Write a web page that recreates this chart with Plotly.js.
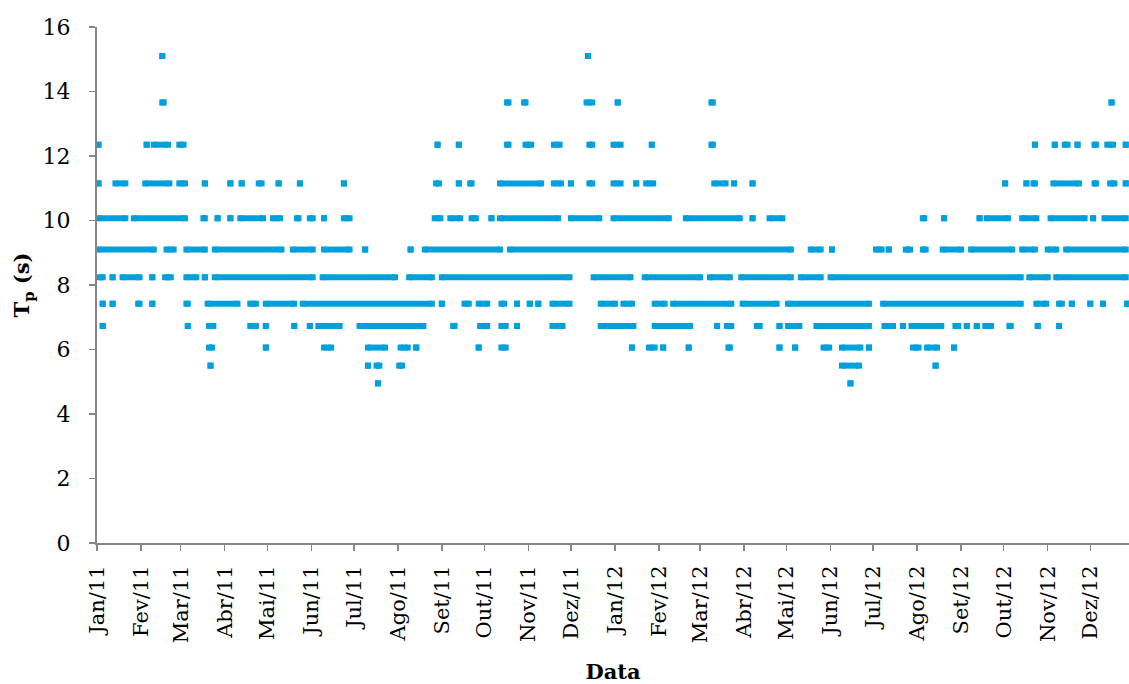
<!DOCTYPE html>
<html>
<head>
<meta charset="utf-8">
<script src="https://cdn.plot.ly/plotly-3.0.1.min.js"></script>
<style>html,body{margin:0;padding:0;background:#fff;}#chart{width:1129px;height:684px;}</style>
</head>
<body>
<div id="chart"></div>
<script>
// Peak period levels (s)
const tpLevels = [15.1, 13.66, 12.35, 11.15, 10.07, 9.1, 8.24, 7.42, 6.73, 6.06, 5.5, 4.95];

// Month ticks
const monthTicks = ['2011-01-01','2011-02-01','2011-03-01','2011-04-01','2011-05-01','2011-06-01','2011-07-01','2011-08-01','2011-09-01','2011-10-01','2011-11-01','2011-12-01',
  '2012-01-01','2012-02-01','2012-03-01','2012-04-01','2012-05-01','2012-06-01','2012-07-01','2012-08-01','2012-09-01','2012-10-01','2012-11-01','2012-12-01'];
const monthLabels = ['Jan/11','Fev/11','Mar/11','Abr/11','Mai/11','Jun/11','Jul/11','Ago/11','Set/11','Out/11','Nov/11','Dez/11',
  'Jan/12','Fev/12','Mar/12','Abr/12','Mai/12','Jun/12','Jul/12','Ago/12','Set/12','Out/12','Nov/12','Dez/12'];

// Observed dates (runs of consecutive observations: [first, last]) for each Tp level
const obs_15_10 = [['2011-02-16'],['2011-12-13']];
const obs_13_66 = [['2011-02-16','2011-02-17'],['2011-10-17','2011-10-18'],['2011-10-29','2011-10-30'],['2011-12-12','2011-12-16'],
  ['2012-01-03'],['2012-03-09','2012-03-10'],['2012-12-16']];
const obs_12_35 = [['2011-01-02'],['2011-02-05'],['2011-02-10','2011-02-20'],['2011-02-28','2011-03-03'],['2011-08-29'],['2011-09-13'],
  ['2011-10-17','2011-10-18'],['2011-10-30','2011-11-03'],['2011-11-19','2011-11-23'],['2011-12-14','2011-12-16'],['2011-12-31','2012-01-05'],
  ['2012-01-27'],['2012-03-09','2012-03-10'],['2012-10-23'],['2012-11-06'],['2012-11-13','2012-11-15'],['2012-11-22'],
  ['2012-12-04','2012-12-05'],['2012-12-13','2012-12-17'],['2012-12-26']];
const obs_11_15 = [['2011-01-02'],['2011-01-14','2011-01-21'],['2011-02-04','2011-02-21'],['2011-02-28','2011-03-04'],['2011-03-18'],
  ['2011-04-05'],['2011-04-13'],['2011-04-25','2011-04-27'],['2011-05-09'],['2011-05-24'],['2011-06-24'],['2011-08-28','2011-08-30'],
  ['2011-09-13'],['2011-09-21','2011-09-22'],['2011-10-12','2011-11-10'],['2011-11-19','2011-11-24'],['2011-12-01'],['2011-12-14','2011-12-16'],
  ['2011-12-31','2012-01-05'],['2012-01-16'],['2012-01-23','2012-01-28'],['2012-03-11','2012-03-19'],['2012-03-25'],['2012-04-07'],
  ['2012-10-02'],['2012-10-17'],['2012-10-22','2012-10-23'],['2012-11-05','2012-11-23'],['2012-12-04','2012-12-05'],['2012-12-15','2012-12-18'],['2012-12-26']];
const obs_10_07 = [['2011-01-02','2011-01-21'],['2011-01-27','2011-03-04'],['2011-03-17','2011-03-18'],['2011-03-27'],['2011-04-05'],
  ['2011-04-12','2011-04-28'],['2011-05-05','2011-05-10'],['2011-05-22','2011-05-23'],['2011-05-31','2011-06-02'],['2011-06-10'],
  ['2011-06-24','2011-06-28'],['2011-08-27','2011-08-31'],['2011-09-07','2011-09-14'],['2011-09-22','2011-09-25'],['2011-10-06'],
  ['2011-10-12','2011-11-22'],['2011-12-01','2011-12-21'],['2011-12-31','2012-02-08'],['2012-02-20','2012-03-29'],['2012-04-07'],
  ['2012-04-19','2012-04-28'],['2012-08-05','2012-08-06'],['2012-08-20'],['2012-09-14'],['2012-09-19','2012-10-04'],
  ['2012-10-14','2012-10-24'],['2012-11-03','2012-11-27'],['2012-12-03'],['2012-12-11','2012-12-26']];
const obs_9_10 = [['2011-01-02','2011-02-10'],['2011-02-19','2011-02-24'],['2011-03-05','2011-03-18'],['2011-03-25','2011-05-11'],
  ['2011-05-19','2011-06-02'],['2011-06-10','2011-06-28'],['2011-07-09'],['2011-08-10'],['2011-08-20','2011-10-12'],
  ['2011-10-19','2012-05-04'],['2012-05-18','2012-05-25'],['2012-06-02'],['2012-07-03','2012-07-07'],['2012-07-12'],
  ['2012-07-24','2012-07-27'],['2012-08-05','2012-08-07'],['2012-08-19','2012-09-01'],['2012-09-08','2012-10-07'],
  ['2012-10-14','2012-10-23'],['2012-11-01','2012-11-07'],['2012-11-14','2012-12-26']];
const obs_8_24 = [['2011-01-03','2011-01-05'],['2011-01-12'],['2011-01-19','2011-01-31'],['2011-02-09'],['2011-02-18','2011-02-22'],
  ['2011-03-05','2011-03-12'],['2011-03-18'],['2011-03-25','2011-06-02'],['2011-06-09','2011-07-30'],['2011-08-09','2011-08-25'],
  ['2011-09-01','2011-11-30'],['2011-12-17','2012-01-12'],['2012-01-22','2012-03-01'],['2012-03-08','2012-03-22'],
  ['2012-03-30','2012-05-04'],['2012-05-11','2012-05-25'],['2012-06-01','2012-10-13'],['2012-10-19','2012-11-01'],['2012-11-07','2012-12-26']];
const obs_7_42 = [['2011-01-05'],['2011-01-12'],['2011-01-30','2011-01-31'],['2011-02-09'],['2011-03-05','2011-03-06'],
  ['2011-03-20','2011-04-10'],['2011-04-19','2011-04-23'],['2011-04-30','2011-05-20'],['2011-05-26','2011-08-25'],['2011-09-01'],
  ['2011-09-17','2011-09-20'],['2011-09-27','2011-10-03'],['2011-10-13','2011-10-15'],['2011-10-24'],['2011-11-02'],['2011-11-08'],
  ['2011-11-18','2011-11-30'],['2011-12-22','2012-01-01'],['2012-01-07','2012-01-13'],['2012-01-29','2012-02-05'],
  ['2012-02-11','2012-03-23'],['2012-03-31','2012-04-24'],['2012-05-02','2012-06-28'],['2012-07-08','2012-10-13'],
  ['2012-10-24','2012-10-31'],['2012-11-09','2012-11-11'],['2012-11-18'],['2012-12-01'],['2012-12-10'],['2012-12-27']];
const obs_6_73 = [['2011-01-05'],['2011-03-06'],['2011-03-21','2011-03-24'],['2011-04-19','2011-04-23'],['2011-04-30'],['2011-05-20'],
  ['2011-05-31'],['2011-06-06','2011-06-21'],['2011-07-05','2011-08-19'],['2011-09-09','2011-09-10'],['2011-09-28','2011-10-03'],
  ['2011-10-13','2011-10-16'],['2011-10-24'],['2011-11-18','2011-11-25'],['2011-12-22','2012-01-14'],['2012-01-29','2012-02-23'],
  ['2012-03-13'],['2012-03-20','2012-03-23'],['2012-04-10','2012-04-12'],['2012-04-26'],['2012-05-02','2012-05-10'],
  ['2012-05-22','2012-06-28'],['2012-07-09','2012-07-15'],['2012-07-22'],['2012-07-28','2012-08-18'],['2012-08-28','2012-08-30'],
  ['2012-09-05'],['2012-09-12'],['2012-09-18','2012-09-22'],['2012-10-05','2012-10-06'],['2012-10-25'],['2012-11-09']];
const obs_6_06 = [['2011-03-21','2011-03-23'],['2011-04-30'],['2011-06-10','2011-06-15'],['2011-07-11','2011-07-23'],['2011-08-03','2011-08-08'],
  ['2011-08-14'],['2011-09-27'],['2011-10-13','2011-10-16'],['2012-01-13'],['2012-01-25','2012-01-29'],['2012-02-04'],['2012-02-22'],
  ['2012-03-21','2012-03-22'],['2012-04-26'],['2012-05-07'],['2012-05-27','2012-05-31'],['2012-06-09','2012-06-22'],['2012-06-28'],
  ['2012-07-29','2012-08-02'],['2012-08-08','2012-08-15'],['2012-08-27']];
const obs_5_50 = [['2011-03-22'],['2011-07-11'],['2011-07-17','2011-07-19'],['2011-08-02','2011-08-04'],['2012-06-09','2012-06-21'],['2012-08-14']];
const obs_4_95 = [['2011-07-18'],['2012-06-15']];

const seriesRuns = [obs_15_10, obs_13_66, obs_12_35, obs_11_15, obs_10_07, obs_9_10, obs_8_24, obs_7_42, obs_6_73, obs_6_06, obs_5_50, obs_4_95];

const BLUE = '#00A0DC';
const traces = seriesRuns.map(function (runs, i) {
  const xs = [], ys = [];
  runs.forEach(function (r) {
    xs.push(r[0], r[1] || r[0], null);
    ys.push(tpLevels[i], tpLevels[i], null);
  });
  return {
    type: 'scatter', mode: 'lines+markers', x: xs, y: ys,
    line: {color: BLUE, width: 6, simplify: false},
    marker: {symbol: 'square', size: 6, color: BLUE, line: {width: 0}},
    connectgaps: false, cliponaxis: false, showlegend: false, hoverinfo: 'x+y'
  };
});

const FONT = 'DejaVu Serif, Liberation Serif, serif';
const layout = {
  width: 1129, height: 684,
  margin: {l: 97, r: 0, t: 27, b: 141},
  paper_bgcolor: '#ffffff', plot_bgcolor: '#ffffff',
  showlegend: false,
  xaxis: {
    type: 'date', range: ['2011-01-01', '2012-12-28 07:00'],
    tickmode: 'array', tickvals: monthTicks, ticktext: monthLabels, tickangle: -90,
    ticks: 'outside', ticklen: 6, tickwidth: 1.5, tickcolor: '#868686',
    showline: true, linecolor: '#868686', linewidth: 2, mirror: false,
    showgrid: false, zeroline: false,
    tickfont: {family: FONT, size: 21, color: '#000'},
    ticklabelstandoff: 6,
    title: {text: 'Data', font: {family: FONT, size: 21, color: '#000', weight: 'bold'}, standoff: 23}
  },
  yaxis: {
    range: [0, 16], tickmode: 'linear', tick0: 0, dtick: 2,
    ticks: 'outside', ticklen: 6, tickwidth: 1.5, tickcolor: '#868686',
    showline: true, linecolor: '#868686', linewidth: 2,
    showgrid: false, zeroline: false,
    tickfont: {family: FONT, size: 22, color: '#000'},
    ticklabelstandoff: 14,
    title: {text: 'T<sub>p</sub> (s)', font: {family: FONT, size: 21, color: '#000', weight: 'bold'}, standoff: 7}
  }
};

Plotly.newPlot('chart', traces, layout, {staticPlot: true, displayModeBar: false});
</script>
</body>
</html>
